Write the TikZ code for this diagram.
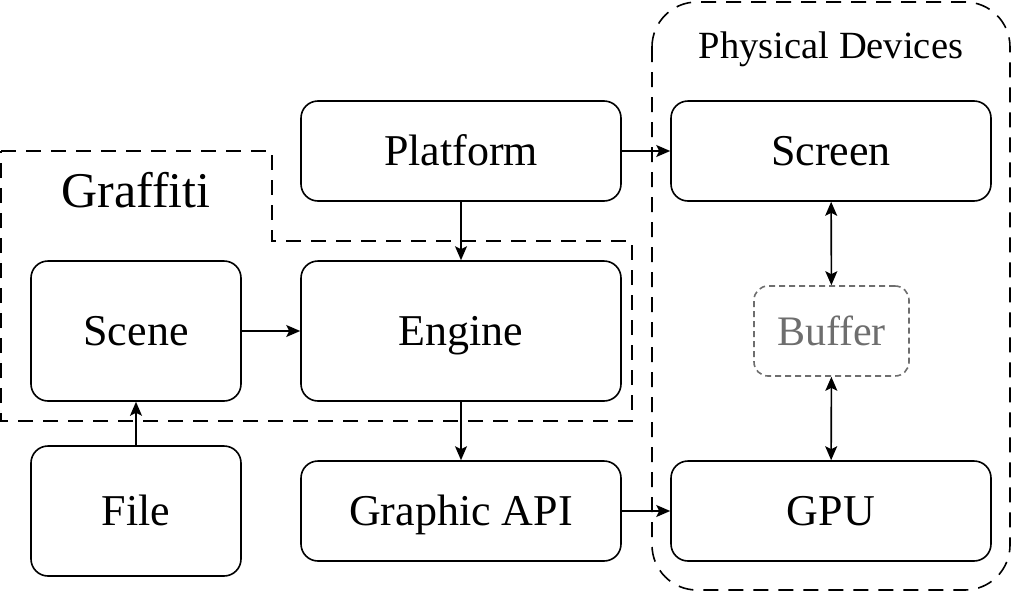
\documentclass[tikz,border=0pt]{standalone}
\usepackage{fontspec}
\setmainfont{Liberation Serif}
\usetikzlibrary{arrows.meta}
\definecolor{bufgray}{HTML}{6E6E6E}
\tikzset{
  box/.style={draw, line width=1.6pt, rounded corners=17pt, inner sep=0pt,
    font=\fontsize{44}{50}\selectfont, text height=29pt, text depth=0pt},
  bufbox/.style={draw=bufgray, line width=1.6pt, dash pattern=on 6pt off 4pt,
    rounded corners=14pt, inner sep=0pt, text=bufgray,
    font=\fontsize{42}{48}\selectfont, text height=28pt, text depth=0pt},
  region/.style={draw, line width=1.6pt, dash pattern=on 15pt off 10pt},
  tip/.style={},
  conn/.style={line width=1.6pt, -{Stealth[length=14pt,width=12pt,inset=3pt]}},
  biconn/.style={line width=1.6pt, {Stealth[length=14pt,width=12pt,inset=3pt]}-{Stealth[length=14pt,width=12pt,inset=3pt]}}
}
\begin{document}
\begin{tikzpicture}[x=1pt,y=-1pt]
\useasboundingbox (0,0) rectangle (1012,592);
% regions
\draw[region, rounded corners=45pt] (652,2) rectangle (1010,590);
\draw[region] (1,151) -- (272,151) -- (272,241) -- (632,241) -- (632,421) -- (1,421) -- cycle;
\node[font=\fontsize{38.5}{44}\selectfont] (pdlabel) at (831,49) {Physical Devices};
\node[font=\fontsize{50}{56}\selectfont] (gflabel) at (136,190) {Graffiti};
% nodes
\node[box, minimum width=320pt, minimum height=100pt] (platform) at (461,151) {Platform};
\node[box, minimum width=320pt, minimum height=100pt] (screen) at (831,151) {Screen};
\node[box, minimum width=210pt, minimum height=140pt] (scene) at (136,331) {Scene};
\node[box, minimum width=320pt, minimum height=140pt] (engine) at (461,331) {Engine};
\node[bufbox, minimum width=155pt, minimum height=90pt] (buffer) at (831.5,331) {Buffer};
\node[box, minimum width=210pt, minimum height=130pt] (file) at (136,511) {File};
\node[box, minimum width=320pt, minimum height=100pt] (gapi) at (461,511) {Graphic API};
\node[box, minimum width=320pt, minimum height=100pt] (gpu) at (831,511) {GPU};
% connectors
\draw[conn] (platform) -- (screen);
\draw[conn] (platform) -- (engine);
\draw[conn] (scene) -- (engine);
\draw[conn] (file) -- (scene);
\draw[conn] (engine) -- (gapi);
\draw[conn] (gapi) -- (gpu);
\draw[biconn] (screen) -- (buffer);
\draw[biconn] (buffer) -- (gpu);
\end{tikzpicture}
\end{document}
